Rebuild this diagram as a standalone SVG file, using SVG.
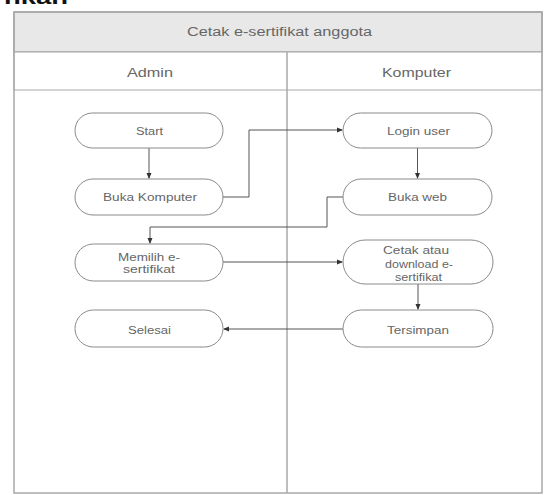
<svg xmlns="http://www.w3.org/2000/svg" width="545" height="495" viewBox="0 0 545 495">
<defs>
<style>
.node rect{fill:#fff;stroke:#8a8a8a;stroke-width:1}
.lbl{font-family:"Liberation Sans",Arial,sans-serif;font-size:10px;fill:#666;text-anchor:middle}
.hdr{font-family:"Liberation Sans",Arial,sans-serif;font-size:12px;fill:#666;text-anchor:middle}
.conn path{fill:none;stroke:#555;stroke-width:1}
.frame{fill:none;stroke:#a8a8a8;stroke-width:1.5}
</style>
<marker id="ah" viewBox="0 0 6 6" refX="5" refY="3" markerWidth="6" markerHeight="6" orient="auto">
<path d="M0,0.5 L6,3 L0,5.5 z" fill="#333"/>
</marker>
</defs>
<rect width="545" height="495" fill="#fff"/>
<text x="4" y="4" font-family="Liberation Sans,Arial,sans-serif" font-size="20" font-weight="bold" fill="#111" textLength="64" lengthAdjust="spacingAndGlyphs">nkan</text>
<g id="pool">
<rect x="14" y="12" width="528" height="40" fill="#e8e8e8" stroke="#a8a8a8" stroke-width="1.5"/>
<rect x="14" y="52" width="528" height="38" fill="#fff" stroke="#a8a8a8" stroke-width="1"/>
<rect x="14" y="12" width="528" height="481" class="frame"/>
<line x1="287" y1="52" x2="287" y2="493" stroke="#a8a8a8" stroke-width="1.5"/>
<text class="hdr" x="279.5" y="36" textLength="185" lengthAdjust="spacingAndGlyphs">Cetak e-sertifikat anggota</text>
<text class="hdr" x="150" y="77" textLength="46" lengthAdjust="spacingAndGlyphs">Admin</text>
<text class="hdr" x="416.5" y="77" textLength="69" lengthAdjust="spacingAndGlyphs">Komputer</text>
</g>
<g class="conn" id="connectors">
<path d="M149,148 V178" marker-end="url(#ah)"/>
<path d="M223,197 H249 V130 H342" marker-end="url(#ah)"/>
<path d="M417.5,148 V178" marker-end="url(#ah)"/>
<path d="M343,197 H327 V227 H150 V243" marker-end="url(#ah)"/>
<path d="M223,262 H342" marker-end="url(#ah)"/>
<path d="M418,284 V309" marker-end="url(#ah)"/>
<path d="M343,329 H224" marker-end="url(#ah)"/>
</g>
<g id="start" class="node"><rect x="75" y="113" width="148" height="35" rx="17.5"/><text class="lbl" x="149.5" y="134.5" textLength="27" lengthAdjust="spacingAndGlyphs">Start</text></g>
<g id="buka-komputer" class="node"><rect x="75" y="179" width="148" height="36" rx="18"/><text class="lbl" x="150" y="200.5" textLength="94" lengthAdjust="spacingAndGlyphs">Buka Komputer</text></g>
<g id="memilih" class="node"><rect x="75" y="244" width="148" height="37" rx="18.5"/><text class="lbl" x="149" y="260.5" textLength="62" lengthAdjust="spacingAndGlyphs">Memilih e-</text><text class="lbl" x="149" y="272.5" textLength="52" lengthAdjust="spacingAndGlyphs">sertifikat</text></g>
<g id="selesai" class="node"><rect x="75" y="310" width="148" height="37" rx="18.5"/><text class="lbl" x="149.5" y="333.5" textLength="43" lengthAdjust="spacingAndGlyphs">Selesai</text></g>
<g id="login" class="node"><rect x="343" y="113" width="149" height="35" rx="17.5"/><text class="lbl" x="418.5" y="134.5" textLength="63" lengthAdjust="spacingAndGlyphs">Login user</text></g>
<g id="buka-web" class="node"><rect x="343" y="179" width="149" height="36" rx="18"/><text class="lbl" x="417.5" y="200.5" textLength="59" lengthAdjust="spacingAndGlyphs">Buka web</text></g>
<g id="cetak" class="node"><rect x="343" y="240" width="150" height="44" rx="22"/><text class="lbl" x="416" y="253.5" textLength="66" lengthAdjust="spacingAndGlyphs">Cetak atau</text><text class="lbl" x="419" y="267.5" textLength="68" lengthAdjust="spacingAndGlyphs">download e-</text><text class="lbl" x="418.5" y="280.5" textLength="47" lengthAdjust="spacingAndGlyphs">sertifikat</text></g>
<g id="tersimpan" class="node"><rect x="343" y="310" width="150" height="37" rx="18.5"/><text class="lbl" x="418" y="333.5" textLength="62" lengthAdjust="spacingAndGlyphs">Tersimpan</text></g>
</svg>
